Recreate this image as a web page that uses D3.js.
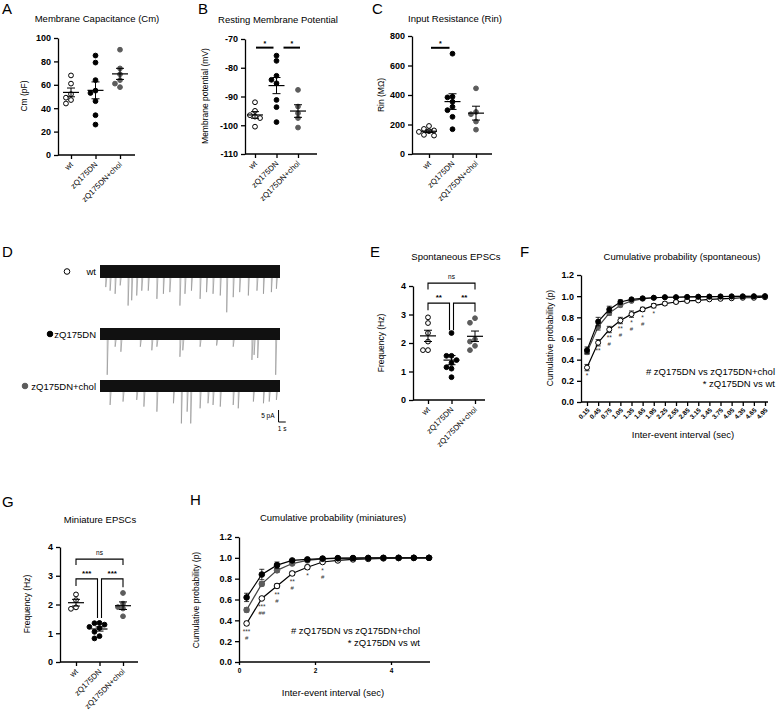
<!DOCTYPE html>
<html>
<head>
<meta charset="utf-8">
<script src="https://cdn.jsdelivr.net/npm/d3@7"></script>
<style>
body { margin: 0; background: #fff; }
text { font-family: "Liberation Sans", Arial, sans-serif; }
</style>
</head>
<body>
<div id="fig"></div>
<script>
const groups = ["wt", "zQ175DN", "zQ175DN+chol"];
const fillOf = { "wt": "#fff", "zQ175DN": "#000", "zQ175DN+chol": "#5c5c5c" };
const strokeOf = { "wt": "#000", "zQ175DN": "#000", "zQ175DN+chol": "#5c5c5c" };

// A  membrane capacitance (pF)
const cmWt = [68, 61, 52, 49, 47, 44];
const cmZq = [85, 79, 64, 55, 53, 46, 34, 26];
const cmChol = [90, 74, 69, 64, 61, 58];
// B  resting membrane potential (mV)
const rmpWt = [-92, -95, -96.5, -97, -97.5, -100.5];
const rmpZq = [-75.8, -77.6, -82.8, -84.2, -85.4, -91.2, -93.7, -98.9];
const rmpChol = [-87.7, -93.5, -95.8, -97.5, -100.8];
// C  input resistance (MΩ)
const rinWt = [190, 170, 160, 155, 150, 130, 125];
const rinZq = [680, 388, 384, 354, 320, 297, 252, 168];
const rinChol = [445, 285, 270, 220, 165];
// E  spontaneous EPSC frequency (Hz)
const sFreqWt = [2.9, 2.7, 2.35, 2.05, 1.75, 1.75];
const sFreqZq = [2.35, 1.55, 1.55, 1.4, 1.3, 1.15, 1.1, 0.8];
const sFreqChol = [2.87, 2.71, 2.13, 2.05, 1.9, 1.75];
// G  miniature EPSC frequency (Hz)
const mFreqWt = [2.35, 2.15, 1.9, 1.85];
const mFreqZq = [1.36, 1.35, 1.3, 1.22, 1.18, 1.05, 0.9, 0.82];
const mFreqChol = [2.4, 2.03, 1.91, 1.86, 1.59];

// D  example traces: events as [time s, amplitude pA]
const wtEvents = [[0.8,-6.5],[1.4,-8],[2.1,-9.3],[2.8,-5.8],[3.9,-14.2],[4.4,-12],[5.1,-10],[5.8,-8],[6.7,-8],[7.9,-11.4],[8.8,-9.3],[9.7,-8.6],[11.1,-14.2],[11.8,-9.3],[12.7,-8],[13.9,-11.4],[14.8,-8.6],[15.7,-9.3],[16.7,-10],[17.6,-17],[18.5,-10.7],[19.4,-8.6],[20.6,-10],[21.8,-8],[22.7,-9.3],[23.8,-8.6],[24.5,-7.2]];
const zqEvents = [[1.0,-17],[2.1,-5.3],[2.9,-7.4],[5.6,-5.3],[7.2,-6.8],[7.9,-5.3],[11.1,-9.5],[11.5,-6.8],[13.9,-5.3],[16.2,-4.8],[18.5,-5.3],[21.1,-10.8],[21.4,-8.7],[21.9,-10],[24.4,-17]];
const cholEvents = [[1.4,-7.9],[3.2,-6.5],[5.1,-5.8],[6.1,-8.6],[7.9,-10.7],[10.2,-7.2],[11.3,-15.6],[12.1,-10.7],[12.6,-15.6],[13.9,-9.3],[15.0,-7.2],[15.7,-7.9],[16.7,-8.6],[18.5,-7.9],[19.2,-9.3],[21.3,-6.5],[22.7,-7.2],[23.5,-6.5],[24.5,-5.8]];

// F  cumulative probability, spontaneous
const sIntervals = ["0.15","0.45","0.75","1.05","1.35","1.65","1.95","2.25","2.55","2.85","3.15","3.45","3.75","4.05","4.35","4.65","4.95"];
const sCumWt = [0.325,0.56,0.685,0.77,0.83,0.875,0.91,0.93,0.945,0.955,0.96,0.97,0.975,0.98,0.985,0.985,0.99];
const sCumZq = [0.49,0.76,0.875,0.945,0.97,0.98,0.985,0.99,0.99,0.993,0.995,0.996,0.997,0.998,0.998,0.999,1.0];
const sCumChol = [0.47,0.71,0.84,0.915,0.955,0.975,0.985,0.99,0.99,0.992,0.994,0.995,0.996,0.997,0.998,0.998,0.999];
const sErrWt = [0.03,0.03,0.03,0.03,0.03,0.02,0.02,0.015,0.015,0.01,0.01,0.01,0.01,0.01,0.005,0.005,0.005];
const sErrZq = [0.03,0.04,0.03,0.02,0.01,0.01,0.005,0.005,0.005,0.005,0.003,0.003,0.003,0.002,0.002,0.001,0];
const sErrChol = [0.02,0.03,0.02,0.015,0.01,0.01,0.005,0.005,0.005,0.005,0.003,0.003,0.003,0.002,0.002,0.001,0.001];
const sMarks = [["*",""],["**",""],["**","#"],["**","#"],["*","#"],["*","#"],["*",""]];

// H  cumulative probability, miniatures
const mIntervals = [0.2,0.6,1.0,1.4,1.8,2.2,2.6,3.0,3.4,3.8,4.2,4.6,5.0];
const mCumWt = [0.37,0.61,0.73,0.85,0.91,0.96,0.975,0.985,0.99,0.995,0.998,0.999,1.0];
const mCumZq = [0.62,0.84,0.93,0.975,0.985,0.993,0.997,0.998,0.999,1,1,1,1];
const mCumChol = [0.50,0.75,0.88,0.945,0.975,0.99,0.995,0.997,0.998,0.999,1,1,1];
const mErrWt = [0.02,0.01,0.02,0.02,0.02,0.01,0.01,0.005,0.005,0,0,0,0];
const mErrZq = [0.04,0.05,0.03,0.01,0.01,0.005,0,0,0,0,0,0,0];
const mErrChol = [0.02,0.02,0.02,0.01,0.01,0.005,0,0,0,0,0,0,0];
const mMarks = [["***","#"],["***","##"],["**","#"],["**","#"],["*",""],["*","#"]];

const svg = d3.select("#fig").append("svg")
    .attr("width", 776)
    .attr("height", 719);

function letter(t, x, y) {
    svg.append("text").attr("x", x).attr("y", y).attr("font-size", 15).text(t);
}
function title(t, x, y) {
    svg.append("text").attr("x", x).attr("y", y)
        .attr("text-anchor", "middle").attr("font-size", 9.5).text(t);
}
function yLabel(t, x, y) {
    svg.append("text")
        .attr("transform", `translate(${x},${y}) rotate(-90)`)
        .attr("text-anchor", "middle").attr("font-size", 8.5).text(t);
}
function styleAxis(a, fs) {
    a.selectAll("path, line").attr("stroke", "#000").attr("stroke-width", 1.3);
    a.selectAll("text").attr("font-size", fs).attr("font-weight", "bold")
        .attr("fill", "#000").attr("font-family", "Liberation Sans, Arial, sans-serif");
}

// simple swarm so overlapping dots move sideways
function swarm(vals, y, r) {
    const placed = [];
    return vals.slice().sort((a, b) => b - a).map(v => {
        const py = y(v);
        let off = 0;
        for (const c of [0, -1, 1, -2, 2, -3, 3]) {
            const ox = c * r * 2.1;
            if (placed.every(p => Math.hypot(p[0] - ox, p[1] - py) >= r * 2)) { off = ox; break; }
        }
        placed.push([off, py]);
        return { v, off };
    });
}

function scatterPanel(o) {
    const g = svg.append("g");
    const y = d3.scaleLinear().domain(o.domain).range([o.bottom, o.top]);
    const x = d3.scalePoint().domain(groups).range(o.cats);
    const r = 2.4;

    const ya = g.append("g").attr("transform", `translate(${o.left},0)`)
        .call(d3.axisLeft(y).tickValues(o.ticks).tickFormat(d => String(d)).tickSize(4).tickSizeOuter(0));
    styleAxis(ya, 9);

    g.append("line").attr("x1", o.left).attr("x2", o.right)
        .attr("y1", o.bottom).attr("y2", o.bottom)
        .attr("stroke", "#000").attr("stroke-width", 1.3);
    const xa = g.append("g").attr("transform", `translate(0,${o.bottom})`)
        .call(d3.axisBottom(x).tickSize(4).tickSizeOuter(0));
    xa.select(".domain").remove();
    styleAxis(xa, 7.8);
    xa.selectAll("text")
        .attr("font-weight", "normal")
        .attr("x", 0).attr("y", 0).attr("dy", "0.35em")
        .attr("transform", "translate(0,8) rotate(-45)")
        .attr("text-anchor", "end");

    o.series.forEach((vals, gi) => {
        const key = groups[gi];
        const cx = x(key);
        const m = d3.mean(vals);
        const sem = d3.deviation(vals) / Math.sqrt(vals.length);

        g.selectAll(null).data(swarm(vals, y, r)).enter().append("circle")
            .attr("cx", d => cx + d.off)
            .attr("cy", d => y(d.v))
            .attr("r", r)
            .attr("fill", fillOf[key])
            .attr("stroke", strokeOf[key])
            .attr("stroke-width", 1);

        g.append("line").attr("x1", cx - 8).attr("x2", cx + 8)
            .attr("y1", y(m)).attr("y2", y(m)).attr("stroke", "#000").attr("stroke-width", 1.2);
        g.append("line").attr("x1", cx).attr("x2", cx)
            .attr("y1", y(m - sem)).attr("y2", y(m + sem)).attr("stroke", "#000").attr("stroke-width", 1);
        [m - sem, m + sem].forEach(v => {
            g.append("line").attr("x1", cx - 4).attr("x2", cx + 4)
                .attr("y1", y(v)).attr("y2", y(v)).attr("stroke", "#000").attr("stroke-width", 1);
        });
    });

    (o.sig || []).forEach(s => {
        const xa0 = x(s.a) + (s.da || 0), xb0 = x(s.b) + (s.db || 0);
        const yl = y(s.level);
        if (s.legA === undefined) {
            g.append("line").attr("x1", xa0).attr("x2", xb0).attr("y1", yl).attr("y2", yl)
                .attr("stroke", "#000").attr("stroke-width", 2);
        } else {
            g.append("path")
                .attr("d", `M${xa0},${y(s.legA)}V${yl}H${xb0}V${y(s.legB)}`)
                .attr("fill", "none").attr("stroke", "#000").attr("stroke-width", 1.1);
        }
        g.append("text").attr("x", (xa0 + xb0) / 2).attr("y", yl - (s.gap || 4))
            .attr("text-anchor", "middle").attr("font-size", s.fs || 8)
            .attr("font-weight", s.label === "ns" ? "normal" : "bold")
            .attr("fill", "#000")
            .text(s.label);
    });
}

// A
letter("A", 2, 14);
title("Membrane Capacitance (Cm)", 97, 22);
yLabel("Cm (pF)", 27, 96);
scatterPanel({ left: 58, right: 135, top: 38, bottom: 155, cats: [71, 120],
    domain: [0, 100], ticks: [0, 20, 40, 60, 80, 100], series: [cmWt, cmZq, cmChol] });

// B
letter("B", 198, 14);
title("Resting Membrane Potential", 278, 23);
yLabel("Membrane potential (mV)", 208, 96);
scatterPanel({ left: 245, right: 317, top: 39, bottom: 154, cats: [255, 298],
    domain: [-110, -70], ticks: [-110, -100, -90, -80, -70], series: [rmpWt, rmpZq, rmpChol],
    sig: [{ a: "wt", b: "zQ175DN", da: 1, db: -3, level: -73, label: "*", gap: 2, fs: 7 },
          { a: "zQ175DN", b: "zQ175DN+chol", da: 7, db: 2, level: -73, label: "*", gap: 2, fs: 7 }] });

// C
letter("C", 372, 14);
title("Input Resistance (Rin)", 455, 22);
yLabel("Rin (MΩ)", 384, 95);
scatterPanel({ left: 412, right: 492, top: 36, bottom: 154, cats: [429, 476],
    domain: [0, 800], ticks: [0, 200, 400, 600, 800], series: [rinWt, rinZq, rinChol],
    sig: [{ a: "wt", b: "zQ175DN", da: 2, db: -3, level: 720, label: "*", gap: 2, fs: 7 }] });

// D traces
letter("D", 2, 257);
const traceT = d3.scaleLinear().domain([0, 25]).range([100, 280]);
function trace(events, cy, noise, key, name, markX) {
    const yI = d3.scaleLinear().domain([-20, 5]).range([cy + 48, cy - 12]);
    const g = svg.append("g");
    g.selectAll(null).data(events).enter().append("path")
        .attr("d", d => `M${traceT(d[0])},${yI(-noise)}L${traceT(d[0])},${yI(d[1])}L${traceT(d[0]) + 1},${yI(-noise)}`)
        .attr("fill", "none").attr("stroke", "#888").attr("stroke-width", 0.6);
    g.append("rect").attr("x", traceT(0)).attr("width", traceT(25) - traceT(0))
        .attr("y", yI(noise)).attr("height", yI(-noise) - yI(noise)).attr("fill", "#111");
    g.append("circle").attr("cx", markX).attr("cy", cy).attr("r", 2.8)
        .attr("fill", fillOf[key]).attr("stroke", strokeOf[key]).attr("stroke-width", 1);
    g.append("text").attr("x", 96).attr("y", cy + 3.5).attr("text-anchor", "end")
        .attr("font-size", 9.5).text(name);
    return yI;
}
trace(wtEvents, 271.5, 2.7, "wt", "wt", 67);
trace(zqEvents, 334, 2.5, "zQ175DN", "zQ175DN", 50);
const yChol = trace(cholEvents, 386, 2.5, "zQ175DN+chol", "zQ175DN+chol", 25);
svg.append("path")
    .attr("d", `M${traceT(24.8)},${yChol(-10)}V${yChol(-15)}H${traceT(25.8)}`)
    .attr("fill", "none").attr("stroke", "#000").attr("stroke-width", 1);
svg.append("text").attr("x", traceT(24.8) - 4).attr("y", yChol(-12.5) + 2)
    .attr("text-anchor", "end").attr("font-size", 6.5).text("5 pA");
svg.append("text").attr("x", traceT(25.3)).attr("y", yChol(-15) + 9)
    .attr("text-anchor", "middle").attr("font-size", 6.5).text("1 s");

// E
letter("E", 370, 257);
title("Spontaneous EPSCs", 456, 260);
yLabel("Frequency (Hz)", 384, 343);
scatterPanel({ left: 413, right: 485, top: 286, bottom: 400, cats: [428, 475],
    domain: [0, 4], ticks: [0, 1, 2, 3, 4], series: [sFreqWt, sFreqZq, sFreqChol],
    sig: [{ a: "wt", b: "zQ175DN+chol", level: 4.1, legA: 3.88, legB: 3.88, label: "ns", gap: 4, fs: 6.5 },
          { a: "wt", b: "zQ175DN", db: -2, level: 3.4, legA: 3.15, legB: 2.45, label: "**", gap: 3 },
          { a: "zQ175DN", b: "zQ175DN+chol", da: 2, level: 3.4, legA: 2.45, legB: 3.1, label: "**", gap: 3 }] });

// G
letter("G", 2, 507);
title("Miniature EPSCs", 100, 523);
yLabel("Frequency (Hz)", 30, 604);
scatterPanel({ left: 60, right: 138, top: 547, bottom: 662, cats: [76, 123],
    domain: [0, 4], ticks: [0, 1, 2, 3, 4], series: [mFreqWt, mFreqZq, mFreqChol],
    sig: [{ a: "wt", b: "zQ175DN+chol", level: 3.58, legA: 3.37, legB: 3.37, label: "ns", gap: 4, fs: 6.5 },
          { a: "wt", b: "zQ175DN", db: -2, level: 2.89, legA: 2.64, legB: 1.53, label: "***", gap: 3 },
          { a: "zQ175DN", b: "zQ175DN+chol", da: 2, level: 2.89, legA: 1.53, legB: 2.6, label: "***", gap: 3 }] });

// cumulative probability panels
function cumPanel(o) {
    const g = svg.append("g");
    const y = d3.scaleLinear().domain([0, 1.2]).range([o.bottom, o.top]);
    const x = o.x;
    const ya = g.append("g").attr("transform", `translate(${o.left},0)`)
        .call(d3.axisLeft(y).tickValues([0, 0.2, 0.4, 0.6, 0.8, 1.0, 1.2])
            .tickFormat(d3.format(".1f")).tickSize(4).tickSizeOuter(0));
    styleAxis(ya, 9);

    g.append("line").attr("x1", o.left).attr("x2", o.right)
        .attr("y1", o.bottom).attr("y2", o.bottom)
        .attr("stroke", "#000").attr("stroke-width", 1.3);
    const xa = g.append("g").attr("transform", `translate(0,${o.bottom})`).call(o.xAxis);
    xa.select(".domain").remove();
    styleAxis(xa, 6.5);
    if (o.rotate) {
        xa.selectAll("text").attr("x", 0).attr("y", 0).attr("dy", "0.35em")
            .attr("transform", "translate(1,7) rotate(-45)").attr("text-anchor", "end");
    }

    const order = [[o.wt, o.eWt, "wt"], [o.chol, o.eChol, "zQ175DN+chol"], [o.zq, o.eZq, "zQ175DN"]];
    order.forEach(([vals, errs, key]) => {
        const pts = vals.map((v, i) => ({ x: x(o.xs[i]), v, e: errs[i] }));
        g.append("path").datum(pts)
            .attr("d", d3.line().x(d => d.x).y(d => y(d.v)))
            .attr("fill", "none").attr("stroke", key === "zQ175DN+chol" ? "#444" : "#000")
            .attr("stroke-width", 1.2);
        pts.filter(d => d.e > 0.004).forEach(d => {
            g.append("path")
                .attr("d", `M${d.x},${y(d.v - d.e)}V${y(d.v + d.e)}M${d.x - 2.5},${y(d.v + d.e)}H${d.x + 2.5}M${d.x - 2.5},${y(d.v - d.e)}H${d.x + 2.5}`)
                .attr("fill", "none").attr("stroke", "#000").attr("stroke-width", 0.8);
        });
        g.selectAll(null).data(pts).enter().append("circle")
            .attr("cx", d => d.x).attr("cy", d => y(d.v)).attr("r", o.r)
            .attr("fill", fillOf[key]).attr("stroke", strokeOf[key]).attr("stroke-width", 1);
    });

    o.marks.forEach(([s, h], i) => {
        const px = x(o.xs[i]), py = y(o.wt[i]);
        g.append("text").attr("x", px).attr("y", py + o.r + 8).attr("text-anchor", "middle")
            .attr("font-size", 6.5).attr("fill", "#333").text(s);
        if (h) g.append("text").attr("x", px).attr("y", py + o.r + 14).attr("text-anchor", "middle")
            .attr("font-size", 6).attr("fill", "#333").text(h);
    });

    g.append("text").attr("x", o.legX).attr("y", o.legY).attr("text-anchor", "end")
        .attr("font-size", 9.5).text("# zQ175DN vs zQ175DN+chol");
    g.append("text").attr("x", o.legX).attr("y", o.legY + 12).attr("text-anchor", "end")
        .attr("font-size", 9.5).text("* zQ175DN vs wt");
}

// F
letter("F", 520, 257);
title("Cumulative probability (spontaneous)", 682, 260);
yLabel("Cumulative probability (p)", 553, 338);
const xF = d3.scalePoint().domain(sIntervals).range([587, 765]);
cumPanel({ left: 581, right: 768, top: 275, bottom: 402, x: xF, xs: sIntervals,
    xAxis: d3.axisBottom(xF).tickSize(4).tickSizeOuter(0), rotate: true, r: 2.5,
    wt: sCumWt, zq: sCumZq, chol: sCumChol, eWt: sErrWt, eZq: sErrZq, eChol: sErrChol,
    marks: sMarks, legX: 775, legY: 375 });
svg.append("text").attr("x", 683).attr("y", 438).attr("text-anchor", "middle")
    .attr("font-size", 9.5).text("Inter-event interval (sec)");

// H
letter("H", 190, 505);
title("Cumulative probability (miniatures)", 333, 521);
yLabel("Cumulative probability (p)", 199, 600);
const xH = d3.scaleLinear().domain([0, 5]).range([239, 429]);
cumPanel({ left: 239, right: 430, top: 537, bottom: 662, x: xH, xs: mIntervals,
    xAxis: d3.axisBottom(xH).tickValues([0, 2, 4]).tickFormat(d3.format("d")).tickSize(3).tickSizeOuter(0),
    rotate: false, r: 2.8,
    wt: mCumWt, zq: mCumZq, chol: mCumChol, eWt: mErrWt, eZq: mErrZq, eChol: mErrChol,
    marks: mMarks, legX: 420, legY: 634 });
svg.append("text").attr("x", 333).attr("y", 696).attr("text-anchor", "middle")
    .attr("font-size", 9.5).text("Inter-event interval (sec)");
</script>
</body>
</html>
